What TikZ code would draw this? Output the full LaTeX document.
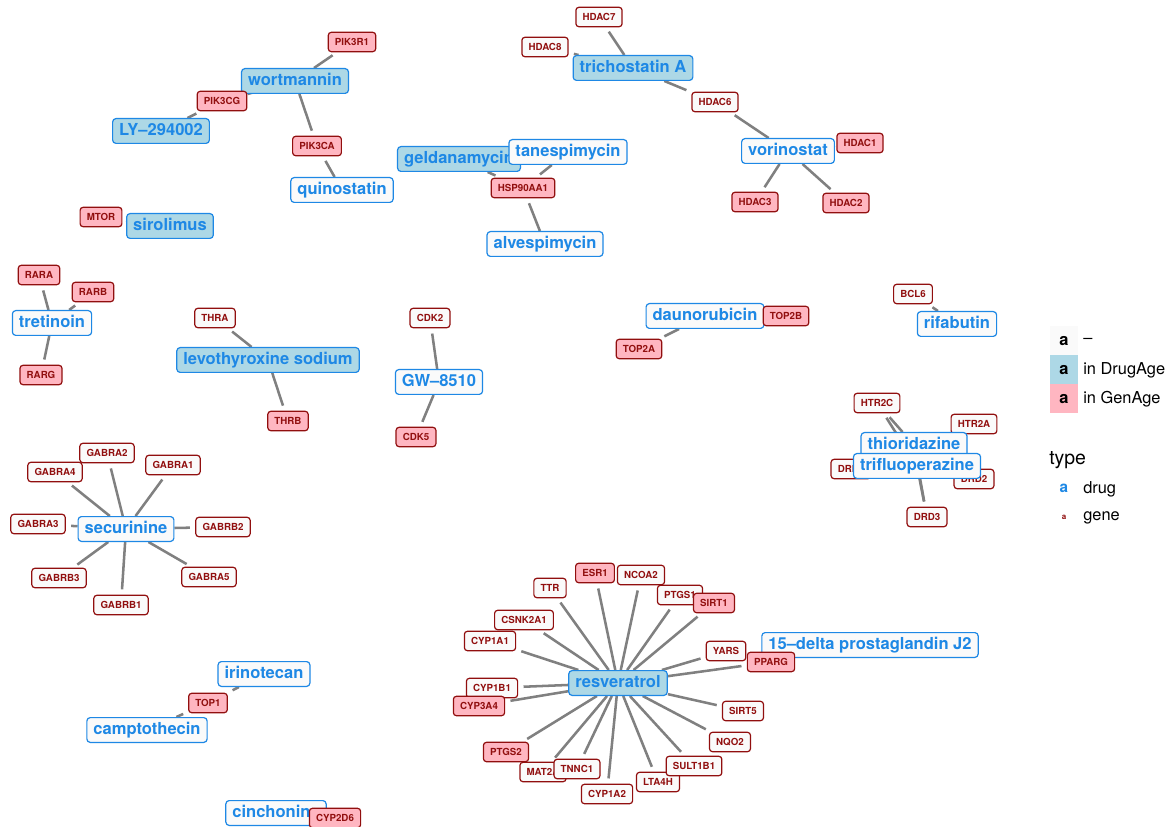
\documentclass[tikz,border=0pt]{standalone}
\usepackage{fontspec}
\setmainfont{TeX Gyre Heros}
\definecolor{dblue}{RGB}{30,136,229}
\definecolor{dred}{RGB}{145,15,15}
\definecolor{lblue}{RGB}{173,216,230}
\definecolor{lpink}{RGB}{255,182,193}
\definecolor{offwhite}{RGB}{250,250,250}
\definecolor{egray}{RGB}{128,128,128}
\pgfdeclarelayer{bg}
\pgfsetlayers{bg,main}
\newcommand{\drugfont}{\fontsize{12.4}{14}\selectfont\bfseries}
\newcommand{\genefont}{\fontsize{7.3}{8}\selectfont\bfseries}
\tikzset{
  drug/.style={draw=dblue, text=dblue, font=\drugfont, rounded corners=2.5pt, line width=0.9pt,
    inner xsep=4.9pt, inner ysep=0pt, minimum height=18.6pt, text height=9pt, text depth=2.6pt, fill=offwhite},
  dage/.style={drug, fill=lblue},
  gene/.style={draw=dred, text=dred, font=\genefont, rounded corners=2.2pt, line width=0.9pt,
    inner xsep=5pt, inner ysep=0pt, minimum height=14.5pt, text height=5.3pt, text depth=0pt, fill=offwhite},
  gage/.style={gene, fill=lpink},
  edge/.style={draw=egray, line width=1.9pt, shorten >=4pt},
  keybox/.style={minimum width=21pt, minimum height=21.75pt, inner sep=0pt, font=\fontsize{12.4}{14}\selectfont\bfseries},
  legtext/.style={anchor=west, inner sep=0pt, font=\fontsize{12.3}{14}\selectfont},
}
\begin{document}
\begin{tikzpicture}[x=0.75pt, y=-0.75pt]
\useasboundingbox (0,0) rectangle (1172,827);

% PI3K cluster
\node[gage] (pik3r1) at (352,42) {PIK3R1};
\node[dage] (wort) at (295,81) {wortmannin};
\node[gage] (pik3cg) at (222,101) {PIK3CG};
\node[dage] (ly) at (161,131) {LY{\textendash}294002};
\node[gage] (pik3ca) at (317,146) {PIK3CA};
\node[drug] (quino) at (342,190) {quinostatin};
\node[gage] (mtor) at (101,217) {MTOR};
\node[dage] (siro) at (170,226) {sirolimus};

% HDAC cluster
\node[gene] (hdac7) at (599,17) {HDAC7};
\node[gene] (hdac8) at (545,47) {HDAC8};
\node[dage] (tricho) at (633,68) {trichostatin A};
\node[gene] (hdac6) at (715,102) {HDAC6};
\node[drug] (vori) at (788,151) {vorinostat};
\node[gage] (hdac1) at (860,143) {HDAC1};
\node[gage] (hdac3) at (755,202) {HDAC3};
\node[gage] (hdac2) at (846,203) {HDAC2};

% HSP90
\node[dage] (geld) at (459,159) {geldanamycin};
\node[drug] (tanes) at (568,152) {tanespimycin};
\node[gage] (hsp) at (523,188) {HSP90AA1};
\node[drug] (alves) at (545,244) {alvespimycin};

% rifabutin / dopamine
\node[gene] (bcl6) at (913,294) {BCL6};
\node[drug] (rifa) at (957,324) {rifabutin};
\node[gene] (htr2c) at (877,403) {HTR2C};
\node[gene] (htr2a) at (974,424) {HTR2A};
\node[gene] (drd1) at (851,469) {DRD1};
\node[gene] (drd2) at (974,479) {DRD2};
\node[gene] (drd3) at (927,517) {DRD3};
\node[drug] (thio) at (914,445) {thioridazine};
\node[drug] (trifl) at (917,466) {trifluoperazine};

% tretinoin
\node[gage] (rara) at (39,275) {RARA};
\node[gage] (rarb) at (93,292) {RARB};
\node[drug] (tret) at (52,323) {tretinoin};
\node[gage] (rarg) at (41,375) {RARG};

% levothyroxine
\node[gene] (thra) at (215,318) {THRA};
\node[dage] (levo) at (268,360) {levothyroxine sodium};
\node[gage] (thrb) at (288,421) {THRB};

% GW-8510
\node[gene] (cdk2) at (430,318) {CDK2};
\node[drug] (gw) at (439,382) {GW{\textendash}8510};
\node[gage] (cdk5) at (416,437) {CDK5};

% daunorubicin
\node[drug] (dauno) at (705,316) {daunorubicin};
\node[gage] (top2b) at (786,316) {TOP2B};
\node[gage] (top2a) at (639,349) {TOP2A};

% securinine
\node[gene] (gabra2) at (107,453) {GABRA2};
\node[gene] (gabra4) at (55,472) {GABRA4};
\node[gene] (gabra1) at (173,465) {GABRA1};
\node[gene] (gabra3) at (38,524) {GABRA3};
\node[drug] (secu) at (126,529) {securinine};
\node[gene] (gabrb2) at (223,527) {GABRB2};
\node[gene] (gabrb3) at (59,578) {GABRB3};
\node[gene] (gabra5) at (209,577) {GABRA5};
\node[gene] (gabrb1) at (121,605) {GABRB1};

% resveratrol
\node[gene] (ttr) at (550,588) {TTR};
\node[gage] (esr1) at (595,573) {ESR1};
\node[gene] (ncoa2) at (641,575) {NCOA2};
\node[gene] (ptgs1) at (680,595) {PTGS1};
\node[gage] (sirt1) at (714,603) {SIRT1};
\node[gene] (csnk) at (524,620) {CSNK2A1};
\node[gene] (cyp1a1) at (490,641) {CYP1A1};
\node[gene] (yars) at (726,651) {YARS};
\node[drug] (pg) at (870,645) {15{\textendash}delta prostaglandin J2};
\node[gage] (pparg) at (771,662) {PPARG};
\node[dage] (resv) at (618,683) {resveratrol};
\node[gene] (cyp1b1) at (492,688) {CYP1B1};
\node[gage] (cyp3a4) at (479,706) {CYP3A4};
\node[gene] (sirt5) at (743,711) {SIRT5};
\node[gene] (nqo2) at (730,742) {NQO2};
\node[gage] (ptgs2) at (506,752) {PTGS2};
\node[gene] (mat2a) at (543,772) {MAT2A};
\node[gene] (tnnc1) at (577,769) {TNNC1};
\node[gene] (cyp1a2) at (607,794) {CYP1A2};
\node[gene] (lta4h) at (658,782) {LTA4H};
\node[gene] (sult) at (694,766) {SULT1B1};

% topoisomerase I
\node[drug] (irino) at (264,674) {irinotecan};
\node[gage] (top1) at (208,703) {TOP1};
\node[drug] (campto) at (147,730) {camptothecin};
\node[drug] (cinch) at (276,813) {cinchonine};
\node[gage] (cyp2d6) at (335,818) {CYP2D6};

% legend
\node[keybox, fill=offwhite] (k1) at (1064,341) {a};
\node[keybox, fill=lblue] (k2) at (1064,370) {a};
\node[keybox, fill=lpink] (k3) at (1064,399) {a};
\node[legtext] (l1) at (1083,341) {\textendash};
\node[legtext] (l2) at (1083,370) {in DrugAge};
\node[legtext] (l3) at (1083,399) {in GenAge};
\node[anchor=west, inner sep=0pt, font=\fontsize{14.6}{16}\selectfont] (ltype) at (1049,460) {type};
\node[inner sep=0pt, text=dblue, font=\fontsize{11.5}{13}\selectfont\bfseries] (ld) at (1064,488) {a};
\node[legtext] (l4) at (1083,489) {drug};
\node[inner sep=0pt, text=dred, font=\fontsize{6}{7}\selectfont\bfseries] (lg) at (1064,517) {a};
\node[legtext] (l5) at (1083,518) {gene};

\begin{pgfonlayer}{bg}
\fill[white] (0,0) rectangle (1172,827);
\foreach \a/\b in {wort/pik3r1, wort/pik3cg, ly/pik3cg, wort/pik3ca, quino/pik3ca, siro/mtor,
  tricho/hdac7, tricho/hdac8, tricho/hdac6, vori/hdac6, vori/hdac1, vori/hdac3, vori/hdac2,
  geld/hsp, tanes/hsp, alves/hsp, rifa/bcl6,
  thio/htr2c, trifl/htr2c, thio/htr2a, trifl/htr2a, thio/drd1, trifl/drd1, thio/drd2, trifl/drd2, thio/drd3, trifl/drd3,
  tret/rara, tret/rarb, tret/rarg, levo/thra, levo/thrb, gw/cdk2, gw/cdk5, dauno/top2b, dauno/top2a,
  secu/gabra2, secu/gabra4, secu/gabra1, secu/gabra3, secu/gabrb2, secu/gabrb3, secu/gabra5, secu/gabrb1,
  resv/ttr, resv/esr1, resv/ncoa2, resv/ptgs1, resv/sirt1, resv/csnk, resv/cyp1a1, resv/yars, resv/pparg,
  resv/cyp1b1, resv/cyp3a4, resv/sirt5, resv/nqo2, resv/ptgs2, resv/mat2a, resv/tnnc1, resv/cyp1a2,
  resv/lta4h, resv/sult, pg/pparg, irino/top1, campto/top1, cinch/cyp2d6}
  \draw[edge] (\a) -- (\b);
\end{pgfonlayer}
\end{tikzpicture}
\end{document}
